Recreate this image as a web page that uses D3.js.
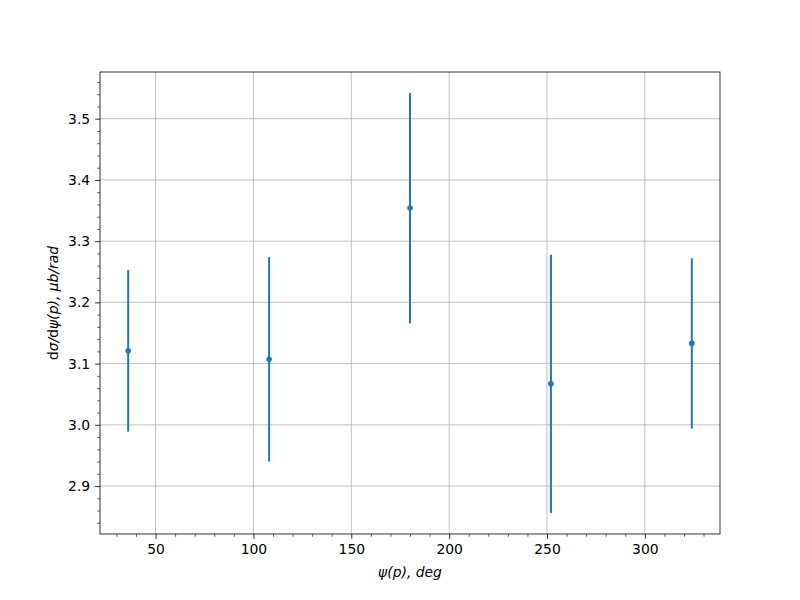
<!DOCTYPE html>
<html><head><meta charset="utf-8">
<script src="https://cdn.jsdelivr.net/npm/d3@7"></script>
<style>body{margin:0;background:#fff;} text{font-family:"DejaVu Sans",sans-serif;}</style>
</head><body>
<svg id="c" width="800" height="600"></svg>
<script>
const angles = [36, 108, 180, 252, 324];
const values = [3.121, 3.107, 3.354, 3.067, 3.133];
const errors = [0.132, 0.167, 0.188, 0.211, 0.139];
const xTicks = [50, 100, 150, 200, 250, 300];
const yTicks = [2.9, 3.0, 3.1, 3.2, 3.3, 3.4, 3.5];

const svg = d3.select("#c");
const L = 100, R = 720, T = 72, B = 534;
const color = "#1f77b4";

const xmin = d3.min(angles), xmax = d3.max(angles);
const xm = (xmax - xmin) * 0.05;
const x = d3.scaleLinear().domain([xmin - xm, xmax + xm]).range([L, R]);
const lo = d3.min(values.map((v, i) => v - errors[i]));
const hi = d3.max(values.map((v, i) => v + errors[i]));
const ym = (hi - lo) * 0.05;
const y = d3.scaleLinear().domain([lo - ym, hi + ym]).range([B, T]);

// grid
svg.append("g").selectAll("line").data(xTicks).join("line")
  .attr("x1", d => x(d)).attr("x2", d => x(d)).attr("y1", T).attr("y2", B)
  .attr("stroke", "#b0b0b0").attr("stroke-width", 0.8);
svg.append("g").selectAll("line").data(yTicks).join("line")
  .attr("y1", d => y(d)).attr("y2", d => y(d)).attr("x1", L).attr("x2", R)
  .attr("stroke", "#b0b0b0").attr("stroke-width", 0.8);

// minor ticks
const xMinor = d3.range(30, 340, 10).filter(v => v % 50 !== 0 && x(v) >= L && x(v) <= R);
const yMinor = d3.range(2.82, 3.58, 0.02).map(v => +v.toFixed(2)).filter(v => Math.round(v * 100) % 10 !== 0 && y(v) >= T && y(v) <= B);

const fmtY = d3.format(".1f");
const xAxis = d3.axisBottom(x).tickValues(xTicks).tickFormat(d3.format("d")).tickSize(4.9).tickPadding(4.9);
const yAxis = d3.axisLeft(y).tickValues(yTicks).tickFormat(fmtY).tickSize(4.9).tickPadding(4.9);
const gx = svg.append("g").attr("transform", `translate(0,${B})`).call(xAxis);
const gy = svg.append("g").attr("transform", `translate(${L},0)`).call(yAxis);
[gx, gy].forEach(g => {
  g.select(".domain").remove();
  g.selectAll("line").attr("stroke", "#000").attr("stroke-width", 0.8);
  g.selectAll("text").attr("font-size", "13.9px").attr("fill", "#000").attr("font-family", "DejaVu Sans");
});
svg.append("g").attr("transform", `translate(0,${B})`).call(d3.axisBottom(x).tickValues(xMinor).tickSize(2.8).tickFormat(""))
  .call(g => { g.select(".domain").remove(); g.selectAll("line").attr("stroke", "#000").attr("stroke-width", 0.6); });
svg.append("g").attr("transform", `translate(${L},0)`).call(d3.axisLeft(y).tickValues(yMinor).tickSize(2.8).tickFormat(""))
  .call(g => { g.select(".domain").remove(); g.selectAll("line").attr("stroke", "#000").attr("stroke-width", 0.6); });

// error bars
const data = angles.map((a, i) => ({a, v: values[i], e: errors[i]}));
svg.append("g").selectAll("line").data(data).join("line")
  .attr("x1", d => x(d.a)).attr("x2", d => x(d.a))
  .attr("y1", d => y(d.v - d.e)).attr("y2", d => y(d.v + d.e))
  .attr("stroke", color).attr("stroke-width", 2);
svg.append("g").selectAll("circle").data(data).join("circle")
  .attr("cx", d => x(d.a)).attr("cy", d => y(d.v)).attr("r", 2.8)
  .attr("fill", color);

// frame
svg.append("rect").attr("x", L).attr("y", T).attr("width", R - L).attr("height", B - T)
  .attr("fill", "none").attr("stroke", "#000").attr("stroke-width", 0.8);

// labels
const xl = svg.append("text").attr("x", (L + R) / 2).attr("y", 577).attr("text-anchor", "middle")
  .attr("font-size", "13.9px").attr("font-style", "italic").text("ψ(p), deg");
const yl = svg.append("text").attr("transform", `translate(58,${(T + B) / 2}) rotate(-90)`)
  .attr("text-anchor", "middle").attr("font-size", "13.9px");
yl.append("tspan").text("d");
yl.append("tspan").attr("font-style", "italic").text("σ/");
yl.append("tspan").text("d");
yl.append("tspan").attr("font-style", "italic").text("ψ(p), μb/rad");
</script>
</body></html>
